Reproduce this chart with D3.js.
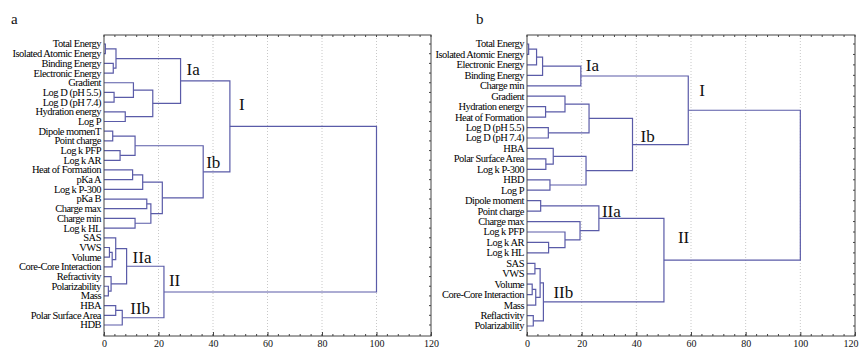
<!DOCTYPE html>
<html>
<head>
<meta charset="utf-8">
<script src="https://cdn.jsdelivr.net/npm/d3@7"></script>
<style>
  body { margin: 0; background: #fff; }
  svg text { font-family: "Liberation Serif", "DejaVu Serif", serif; fill: #111; }
</style>
</head>
<body>
<div id="chart"></div>
<script>
// ---- data: panel a ----
const leavesA = ["Total Energy", "Isolated Atomic Energy", "Binding Energy", "Electronic Energy",
  "Gradient", "Log D (pH 5.5)", "Log D (pH 7.4)", "Hydration energy", "Log P", "Dipole momenT",
  "Point charge", "Log k PFP", "Log k AR", "Heat of Formation", "pKa A", "Log k P-300", "pKa B",
  "Charge max", "Charge min", "Log k HL", "SAS", "VWS", "Volume", "Core-Core Interaction",
  "Refractivity", "Polarizability", "Mass", "HBA", "Polar Surface Area", "HDB"];
// linkage rows: [child, child, linkage distance]; ids >= leaves.length are earlier rows
const mergesA = [
  [0, 1, 0.5], [2, 3, 3.4], [30, 31, 4.4], [5, 6, 3.7], [4, 33, 10.8], [7, 8, 7.8],
  [34, 35, 17.9], [32, 36, 28.1], [9, 10, 3.2], [11, 12, 5.9], [38, 39, 11.4], [13, 14, 10.5],
  [41, 15, 14.2], [16, 17, 15.7], [18, 19, 11.4], [43, 44, 17.2], [42, 45, 21.4], [40, 46, 36.4],
  [37, 47, 46.2], [21, 22, 2.0], [49, 23, 3.0], [20, 50, 4.3], [25, 26, 1.6], [24, 52, 2.6],
  [51, 53, 8.3], [27, 28, 4.3], [55, 29, 6.7], [54, 56, 22], [48, 57, 100]];
const clustersA = [["Ia", 37], ["I", 48], ["Ib", 47], ["IIa", 54], ["II", 57], ["IIb", 56]];

// ---- data: panel b ----
const leavesB = ["Total Energy", "Isolated Atomic Energy", "Electronic Energy", "Binding Energy",
  "Charge min", "Gradient", "Hydration energy", "Heat of Formation", "Log D (pH 5.5)",
  "Log D (pH 7.4)", "HBA", "Polar Surface Area", "Log k P-300", "HBD", "Log P", "Dipole moment",
  "Point charge", "Charge max", "Log k PFP", "Log k AR", "Log k HL", "SAS", "VWS", "Volume",
  "Core-Core Interaction", "Mass", "Reflactivity", "Polarizability"];
const mergesB = [
  [0, 1, 0.6], [28, 2, 3.5], [29, 3, 5.7], [30, 4, 19.7], [6, 7, 6.8], [5, 32, 13.9],
  [8, 9, 7.8], [33, 34, 22.7], [11, 12, 6.9], [10, 36, 9.6], [13, 14, 8.4], [37, 38, 21.6],
  [35, 39, 38.6], [31, 40, 59], [15, 16, 5], [19, 20, 7.9], [18, 43, 13.9], [17, 44, 19.4],
  [42, 45, 26.3], [21, 22, 2.9], [23, 24, 1.9], [48, 25, 3.2], [47, 49, 4.8], [26, 27, 2.3],
  [50, 51, 6], [46, 52, 50.1], [41, 53, 100]];
const clustersB = [["Ia", 31], ["Ib", 40], ["I", 41], ["IIa", 46], ["II", 53], ["IIb", 52]];

const xTicks = [0, 20, 40, 60, 80, 100, 120];

// ---- layout ----
const W = 859, H = 349;
const svg = d3.select("#chart").append("svg").attr("width", W).attr("height", H);
const lineColor = "#5a5ba8";

// label nudges (px) relative to the merge node
const nudgeA = { Ia: [6, -12], I: [9, -22], Ib: [3, -10], IIa: [6, -9], II: [5, -12], IIb: [8, -10] };
const nudgeB = { Ia: [5, -11], Ib: [8, -8], I: [11, -20], IIa: [3, -7], II: [14, -23], IIb: [10, -10] };

function drawPanel(cfg) {
  const { leaves, merges, clusters, nudge, x0, x1, yTop, yBot, yFirst, yLast, title, titleX } = cfg;
  const x = d3.scaleLinear([0, 120], [x0, x1]);
  const y = d3.scalePoint(leaves, [yFirst, yLast]);
  const g = svg.append("g");

  // grid
  g.selectAll(".grid").data([20, 40, 60, 80, 100]).join("line")
    .attr("x1", d => x(d)).attr("x2", d => x(d))
    .attr("y1", yTop).attr("y2", yBot)
    .attr("stroke", "#c8c8c8").attr("stroke-dasharray", "1,2");

  // node positions
  const n = leaves.length;
  const pos = leaves.map(d => ({ y: y(d), h: 0 }));
  merges.forEach(m => {
    const a = pos[m[0]], b = pos[m[1]];
    pos.push({ y: (a.y + b.y) / 2, h: m[2] });
  });

  const links = g.append("g").attr("fill", "none").attr("stroke", lineColor).attr("stroke-width", 1.2);
  merges.forEach((m, i) => {
    const node = pos[n + i];
    const a = pos[m[0]], b = pos[m[1]];
    const path = d3.path();
    path.moveTo(x(a.h), a.y);
    path.lineTo(x(node.h), a.y);
    path.lineTo(x(node.h), b.y);
    path.lineTo(x(b.h), b.y);
    links.append("path").attr("d", path.toString());
  });

  // frame
  g.append("rect").attr("x", x(0)).attr("y", yTop)
    .attr("width", x(120) - x(0)).attr("height", yBot - yTop)
    .attr("fill", "none").attr("stroke", "#444").attr("stroke-width", 1);

  // bottom axis
  const minor = d3.range(0, 121, 4);
  const axB = g.append("g").attr("transform", `translate(0,${yBot})`)
    .call(d3.axisBottom(x).tickValues(xTicks).tickSizeInner(-4).tickSizeOuter(0).tickPadding(4));
  axB.select(".domain").remove();
  axB.selectAll("text").attr("font-size", 10).attr("font-family", "Liberation Serif")
    .attr("text-anchor", d => (d === 120 && x1 > W - 8) ? "end" : "middle")
    .attr("dx", d => (d === 120 && x1 > W - 8) ? 3 : 0);
  axB.selectAll("line").attr("stroke", "#444");
  g.selectAll(".mb").data(minor).join("line")
    .attr("x1", d => x(d)).attr("x2", d => x(d)).attr("y1", yBot).attr("y2", yBot - 2)
    .attr("stroke", "#444");
  g.selectAll(".mt").data(minor).join("line")
    .attr("x1", d => x(d)).attr("x2", d => x(d)).attr("y1", yTop).attr("y2", yTop + 2)
    .attr("stroke", "#444");
  g.selectAll(".mr").data(leaves).join("line")
    .attr("x1", x(120)).attr("x2", x(120) - 2).attr("y1", d => y(d)).attr("y2", d => y(d))
    .attr("stroke", "#444");

  // leaf labels
  g.selectAll(".leaf").data(leaves).join("text")
    .attr("x", x(0) - 3).attr("y", d => y(d)).attr("dy", "0.33em")
    .attr("text-anchor", "end").attr("font-size", 10.5).attr("letter-spacing", "-0.5")
    .style("fill", "#000")
    .text(d => d);

  // cluster labels
  g.selectAll(".cl").data(clusters).join("text")
    .attr("x", d => x(pos[d[1]].h) + nudge[d[0]][0])
    .attr("y", d => pos[d[1]].y + nudge[d[0]][1]).attr("dy", "0.35em")
    .attr("font-size", 17)
    .text(d => d[0]);

  svg.append("text").attr("x", titleX).attr("y", 24).attr("font-size", 15).text(title);
}

drawPanel({ leaves: leavesA, merges: mergesA, clusters: clustersA, nudge: nudgeA,
  x0: 104, x1: 431, yTop: 35, yBot: 336, yFirst: 44, yLast: 325, title: "a", titleX: 11 });
drawPanel({ leaves: leavesB, merges: mergesB, clusters: clustersB, nudge: nudgeB,
  x0: 527, x1: 855, yTop: 35, yBot: 336, yFirst: 44, yLast: 326, title: "b", titleX: 476 });
</script>
</body>
</html>
